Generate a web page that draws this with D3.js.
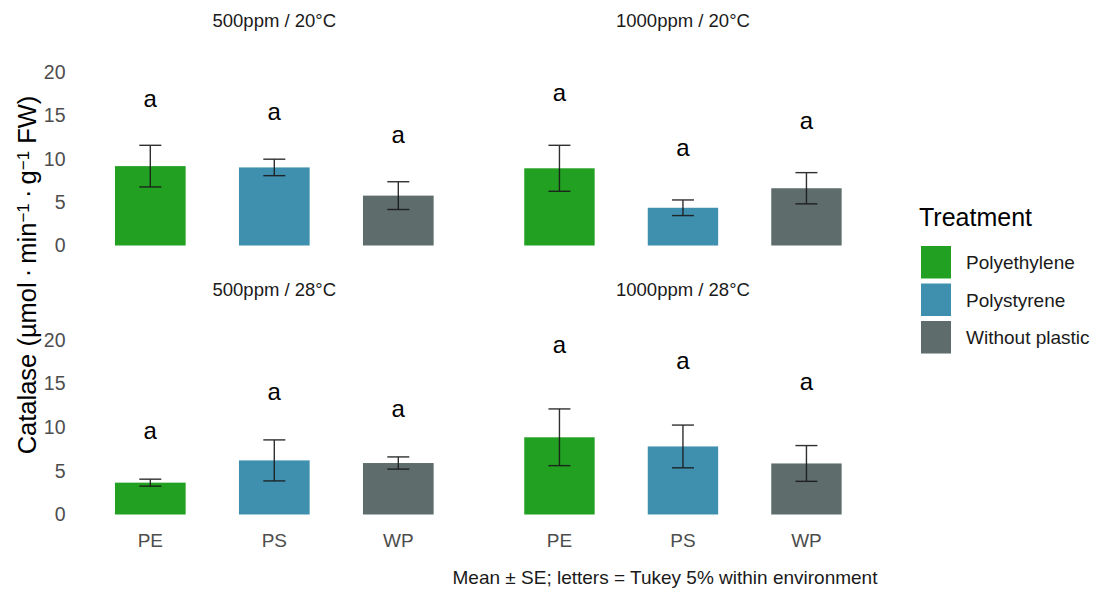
<!DOCTYPE html>
<html><head><meta charset="utf-8">
<script src="https://cdn.jsdelivr.net/npm/d3@7"></script>
<style>body{margin:0;background:#fff;} text{font-family:"Liberation Sans",Arial,sans-serif;}</style>
</head><body><svg id="c" width="1100" height="592"></svg>
<script>
const panels = ["500ppm / 20°C","1000ppm / 20°C","500ppm / 28°C","1000ppm / 28°C"];
const categories = ["PE","PS","WP"];
const treatments = ["Polyethylene","Polystyrene","Without plastic"];
const colors = ["#21A021","#3F8FAF","#5E6D6C"];
// means per panel (PE, PS, WP)
const means = [
  [9.15, 9.0, 5.75],
  [8.9, 4.35, 6.6],
  [3.65, 6.2, 5.9],
  [8.85, 7.8, 5.85]
];
const ses = [
  [2.4, 0.95, 1.6],
  [2.65, 0.9, 1.8],
  [0.4, 2.35, 0.7],
  [3.25, 2.45, 2.05]
];
const letters = [
  ["a","a","a"],["a","a","a"],["a","a","a"],["a","a","a"]
];
const letterOffset = [5.3, 5.9, 5.4, 7.2];
const yTicks = [0,5,10,15,20];

const FF = "Liberation Sans, Arial, sans-serif";
const svg = d3.select("#c");
const rowY = [[245.5,72],[514.5,340]];
const colX = [[88.3,460.3],[497.7,868.2]];

panels.forEach((p,i)=>{
  const r = Math.floor(i/2), c = i%2;
  const x = d3.scaleBand().domain(categories).range(colX[c]).paddingInner(0.43).paddingOuter(0.215);
  const y = d3.scaleLinear().domain([0,20]).range(rowY[r]);
  const g = svg.append("g");
  g.append("text").attr("x",(colX[c][0]+colX[c][1])/2).attr("y",r===0?26.5:295.5)
    .attr("text-anchor","middle").attr("font-size",18.5).attr("fill","#1a1a1a").text(p);
  if(c===0){
    const ax = d3.axisLeft(y).tickValues(yTicks).tickSize(0).tickPadding(0);
    const ag = g.append("g").attr("transform","translate(65.5,0)").call(ax);
    ag.select(".domain").remove();
    ag.selectAll("text").attr("font-size",19.5).attr("fill","#4d4d4d").attr("font-family",FF);
  }
  if(r===1){
    const ax = d3.axisBottom(x).tickSize(0).tickPadding(0);
    const ag = g.append("g").attr("transform","translate(0,533)").call(ax);
    ag.select(".domain").remove();
    ag.selectAll("text").attr("font-size",19).attr("fill","#4d4d4d").attr("font-family",FF);
  }
  categories.forEach((cat,j)=>{
    const m = means[i][j], s = ses[i][j];
    g.append("rect").attr("x",x(cat)).attr("width",x.bandwidth())
      .attr("y",y(m)).attr("height",y(0)-y(m)).attr("fill",colors[j]);
    const cx = x(cat)+x.bandwidth()/2, hw = 11;
    const eg = g.append("g").attr("stroke","#1a1a1a").attr("stroke-width",1.4).attr("opacity",0.9);
    eg.append("line").attr("x1",cx).attr("x2",cx).attr("y1",y(m+s)).attr("y2",y(m-s));
    eg.append("line").attr("x1",cx-hw).attr("x2",cx+hw).attr("y1",y(m+s)).attr("y2",y(m+s));
    eg.append("line").attr("x1",cx-hw).attr("x2",cx+hw).attr("y1",y(m-s)).attr("y2",y(m-s));
    g.append("text").attr("x",cx).attr("y",y(m+s+letterOffset[i]))
      .attr("dy","0.3em").attr("text-anchor","middle").attr("font-size",24).attr("fill","#000").text(letters[i][j]);
  });
});

// y title with superscripts
const yt = svg.append("text").attr("transform","translate(36,275) rotate(-90)").attr("text-anchor","middle")
  .attr("font-size",25.5).attr("fill","#000");
const parts = [["Catalase (µmol\u2009·\u2009min",0],["−1",1],["\u2009·\u2009g",0],["−1",1],[" FW)",0]];
parts.forEach(([t,sup])=>{
  const ts = yt.append("tspan").text(t);
  if(sup) ts.attr("font-size",17).attr("baseline-shift","40%");
});

// legend
const lg = svg.append("g");
lg.append("text").attr("x",919).attr("y",226).attr("font-size",25).attr("fill","#000").text("Treatment");
treatments.forEach((t,k)=>{
  lg.append("rect").attr("x",921).attr("y",246+k*37.5).attr("width",30).attr("height",32.5).attr("fill",colors[k]);
  lg.append("text").attr("x",966).attr("y",262.5+k*37.5).attr("dy","0.35em").attr("font-size",19).attr("fill","#1a1a1a").text(t);
});

svg.append("text").attr("x",665).attr("y",584).attr("text-anchor","middle").attr("font-size",19).attr("fill","#1a1a1a")
  .text("Mean ± SE; letters = Tukey 5% within environment");
</script></body></html>
